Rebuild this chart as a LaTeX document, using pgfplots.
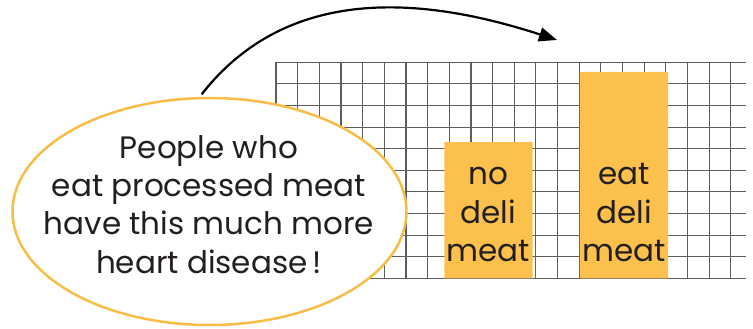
\documentclass[border=0pt]{standalone}
\usepackage{pgfplots}
\pgfplotsset{compat=1.18}
\usetikzlibrary{arrows.meta}
\usepackage{fontspec}
\setmainfont{Poppins}
\definecolor{barc}{HTML}{FCC04C}
\definecolor{orng}{HTML}{F8BD47}
\definecolor{gridc}{HTML}{5E5E5E}
\definecolor{txt}{HTML}{231F20}
\begin{document}
\begin{tikzpicture}[x=1pt,y=1pt]
\useasboundingbox (0,0) rectangle (753,329);
\begin{axis}[
  at={(276pt,50.7pt)}, anchor=south west,
  scale only axis, width=470pt, height=216pt,
  xmin=0, xmax=21.7, ymin=0, ymax=10,
  xtick={0,...,21}, ytick={0,...,10},
  xticklabels={}, yticklabels={},
  grid=major, major grid style={color=gridc, line width=1.15pt},
  tick style={draw=none},
  axis line style={draw=none},
  clip=false,
]
\addplot[ybar, bar width=4.08, fill=barc, draw=none] coordinates {(9.81,6.30) (16.07,9.56)};
\end{axis}
\begin{scope}[font=\fontsize{31}{38}\selectfont, text=txt]
\node[anchor=base] at (488.4,144) {no};
\node[anchor=base] at (488.4,105) {deli};
\node[anchor=base] at (488.4,67.3) {meat};
\node[anchor=base] at (624,144) {eat};
\node[anchor=base] at (624,105) {deli};
\node[anchor=base] at (624,67.3) {meat};
\end{scope}
\draw[orng, line width=2.5pt, fill=white] (209.5,117.5) ellipse [x radius=197, y radius=113.5];
\begin{scope}[font=\fontsize{31}{38}\selectfont, text=txt]
\node[anchor=base] at (209,170.7) {People who};
\node[anchor=base] at (209,132.3) {eat processed meat};
\node[anchor=base] at (209,94) {have this much more};
\node[anchor=base] at (209,55.7) {heart disease\,!};
\end{scope}
\draw[black, line width=2.2pt, -{Triangle[length=18pt,width=14pt]}] (201.7,234.7) to[out=52,in=162] (557,289);
\end{tikzpicture}
\end{document}
